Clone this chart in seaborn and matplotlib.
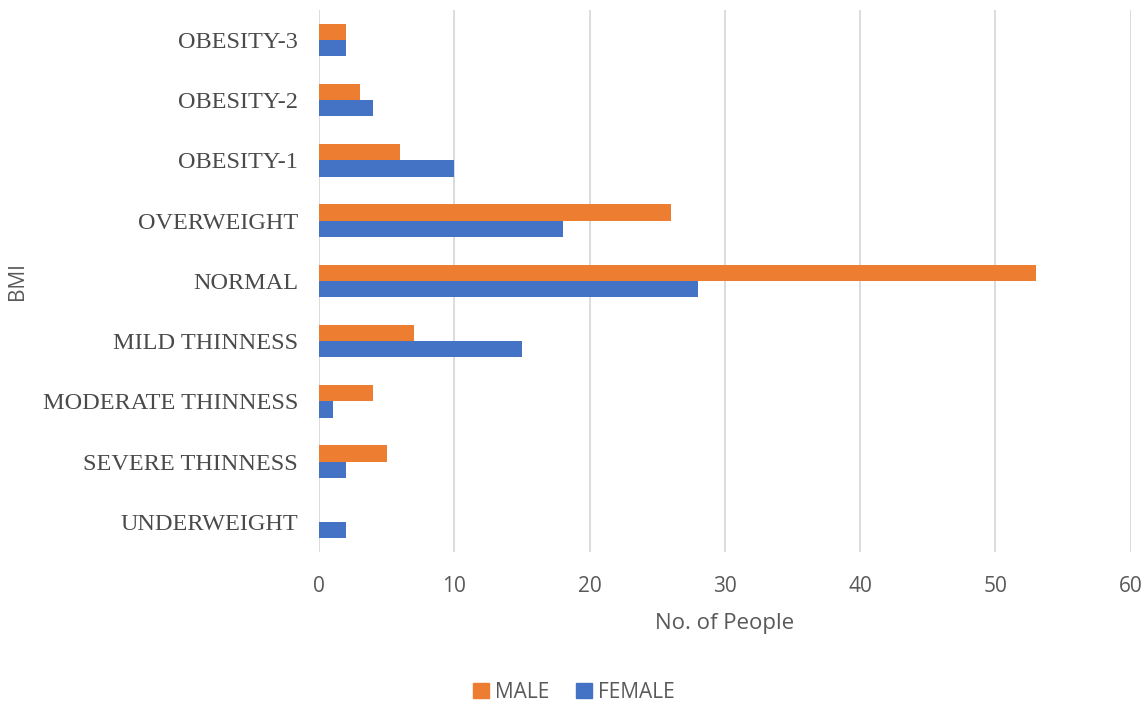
import matplotlib
matplotlib.use("Agg")
import matplotlib.pyplot as plt
import seaborn as sns
import pandas as pd
from matplotlib.patches import Patch

categories = ["OBESITY-3", "OBESITY-2", "OBESITY-1", "OVERWEIGHT", "NORMAL",
              "MILD THINNESS", "MODERATE THINNESS", "SEVERE THINNESS", "UNDERWEIGHT"]
male = [2, 3, 6, 26, 53, 7, 4, 5, 0]
female = [2, 4, 10, 18, 28, 15, 1, 2, 2]
series = ["MALE", "FEMALE"]
colors = ["#ED7D31", "#4472C4"]
xticks = [0, 10, 20, 30, 40, 50, 60]

df = pd.DataFrame({
    "BMI": categories * 2,
    "value": male + female,
    "sex": ["MALE"] * len(categories) + ["FEMALE"] * len(categories),
})

sns.set_theme(style="white")
plt.rcParams["font.family"] = ["Open Sans", "DejaVu Sans"]

fig = plt.figure(figsize=(11.48, 7.04), dpi=100)
ax = fig.add_axes([0.2779, 0.216, 0.7071, 0.770])

sns.barplot(data=df, y="BMI", x="value", hue="sex", order=categories,
            hue_order=series, palette=colors, width=0.54, orient="h",
            saturation=1, ax=ax, legend=False, linewidth=0)

ax.set_xlim(0, 60)
ax.set_xticks(xticks)
ax.set_xticklabels([str(t) for t in xticks], fontsize=15, color="#595959")
ax.set_yticks(range(len(categories)))
ax.set_yticklabels(categories, family="Liberation Serif", fontsize=17.5, color="#4a4a4a")
ax.tick_params(axis="y", length=0, pad=15)
ax.tick_params(axis="x", length=0, pad=17)
ax.grid(axis="x", color="#D9D9D9", linewidth=1.3)
ax.set_axisbelow(True)
for s in ax.spines.values():
    s.set_visible(False)
ax.set_xlabel("No. of People", fontsize=16, color="#595959", labelpad=12)
ax.set_ylabel("BMI", fontsize=15, color="#595959")
ax.yaxis.set_label_coords(-0.358, 0.5)

handles = [Patch(color=c, label=s) for s, c in zip(series, colors)]
fig.legend(handles=handles, loc="center", bbox_to_anchor=(0.5, 0.017),
           ncol=2, frameon=False, fontsize=15, handlelength=0.75, handleheight=0.75,
           handletextpad=0.3, columnspacing=1.3, labelcolor="#595959")

fig.savefig("out.png", dpi=100)
